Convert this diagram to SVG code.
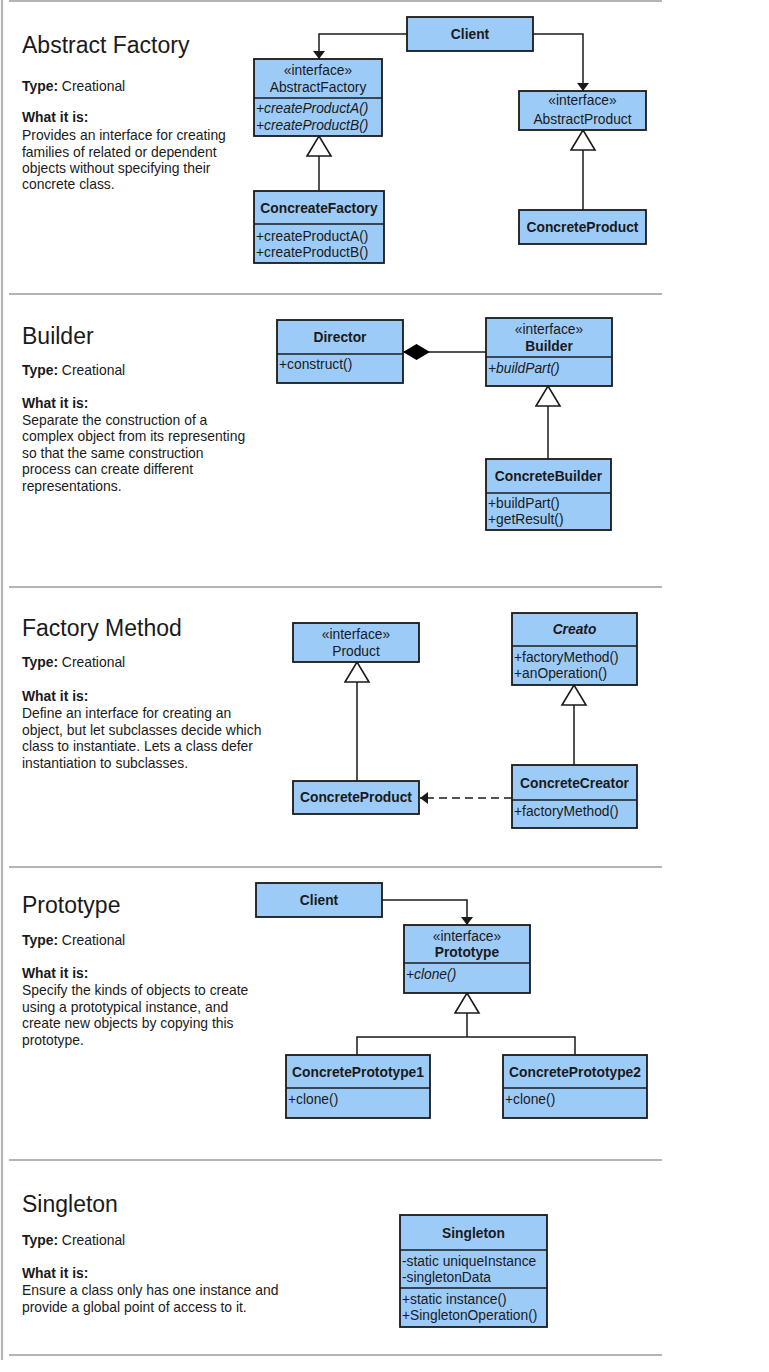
<svg xmlns="http://www.w3.org/2000/svg" width="769" height="1372" viewBox="0 0 769 1372">
<style>
text{font-family:"Liberation Sans",Arial,sans-serif;fill:#1a1a1a}
.title{font-size:23px}
.lbl{font-size:13.8px}
.d{font-size:13.9px}
.b{font-weight:bold}
.i{font-style:italic}
.c{text-anchor:middle}
.box{fill:#9dcbf8;stroke:#1a1a1a;stroke-width:1.8}
.div{stroke:#1a1a1a;stroke-width:1.6}
.sep{stroke:#b4b4b4;stroke-width:2.2}
.ln{fill:none;stroke:#1a1a1a;stroke-width:1.5}
.dash{stroke-dasharray:8 5}
</style>
<defs>
<marker id="arr" markerUnits="userSpaceOnUse" markerWidth="10" markerHeight="14" refX="8" refY="6" orient="auto"><path d="M0,0 L8,6 L0,12 z" fill="#1a1a1a"/></marker>
<marker id="tri" markerUnits="userSpaceOnUse" markerWidth="24" markerHeight="30" refX="21" refY="13" orient="auto"><path d="M1,1 L21,13 L1,25 z" fill="#fff" stroke="#1a1a1a" stroke-width="1.6"/></marker>
<marker id="dia" markerUnits="userSpaceOnUse" markerWidth="30" markerHeight="18" refX="27" refY="8" orient="auto"><path d="M0,8 L13.5,0 L27,8 L13.5,16 z" fill="#000"/></marker>
</defs>

<g id="frame">
<line class="sep" x1="2" y1="0" x2="2" y2="1360"/>
<line class="sep" x1="9" y1="1" x2="662" y2="1"/>
<line class="sep" x1="9" y1="294" x2="662" y2="294"/>
<line class="sep" x1="9" y1="587" x2="662" y2="587"/>
<line class="sep" x1="9" y1="867" x2="662" y2="867"/>
<line class="sep" x1="9" y1="1160" x2="662" y2="1160"/>
<line class="sep" x1="9" y1="1355" x2="662" y2="1355"/>
</g>

<g id="desc-abstract-factory">
<text class="title" x="22" y="53">Abstract Factory</text>
<text class="d" x="22" y="91"><tspan class="b">Type:</tspan> Creational</text>
<text class="d b" x="22" y="122">What it is:</text>
<text class="d" x="22" y="140">Provides an interface for creating</text>
<text class="d" x="22" y="157">families of related or dependent</text>
<text class="d" x="22" y="173">objects without specifying their</text>
<text class="d" x="22" y="189">concrete class.</text>
</g>
<g id="desc-builder">
<text class="title" x="22" y="344">Builder</text>
<text class="d" x="22" y="375"><tspan class="b">Type:</tspan> Creational</text>
<text class="d b" x="22" y="408">What it is:</text>
<text class="d" x="22" y="425">Separate the construction of a</text>
<text class="d" x="22" y="441">complex object from its representing</text>
<text class="d" x="22" y="458">so that the same construction</text>
<text class="d" x="22" y="474">process can create different</text>
<text class="d" x="22" y="491">representations.</text>
</g>
<g id="desc-factory-method">
<text class="title" x="22" y="636">Factory Method</text>
<text class="d" x="22" y="667"><tspan class="b">Type:</tspan> Creational</text>
<text class="d b" x="22" y="701">What it is:</text>
<text class="d" x="22" y="718">Define an interface for creating an</text>
<text class="d" x="22" y="735">object, but let subclasses decide which</text>
<text class="d" x="22" y="751">class to instantiate. Lets a class defer</text>
<text class="d" x="22" y="768">instantiation to subclasses.</text>
</g>
<g id="desc-prototype">
<text class="title" x="22" y="913">Prototype</text>
<text class="d" x="22" y="945"><tspan class="b">Type:</tspan> Creational</text>
<text class="d b" x="22" y="978">What it is:</text>
<text class="d" x="22" y="995">Specify the kinds of objects to create</text>
<text class="d" x="22" y="1012">using a prototypical instance, and</text>
<text class="d" x="22" y="1028">create new objects by copying this</text>
<text class="d" x="22" y="1045">prototype.</text>
</g>
<g id="desc-singleton">
<text class="title" x="22" y="1212">Singleton</text>
<text class="d" x="22" y="1245"><tspan class="b">Type:</tspan> Creational</text>
<text class="d b" x="22" y="1278">What it is:</text>
<text class="d" x="22" y="1295">Ensure a class only has one instance and</text>
<text class="d" x="22" y="1312">provide a global point of access to it.</text>
</g>

<g id="connectors">
<polyline class="ln" points="407,34 319,34 319,59" marker-end="url(#arr)"/>
<polyline class="ln" points="533,34 583,34 583,91" marker-end="url(#arr)"/>
<line class="ln" x1="319" y1="191" x2="319" y2="136" marker-end="url(#tri)"/>
<line class="ln" x1="583" y1="210" x2="583" y2="130" marker-end="url(#tri)"/>
<line class="ln" x1="486" y1="352" x2="403" y2="352" marker-end="url(#dia)"/>
<line class="ln" x1="548" y1="459" x2="548" y2="386" marker-end="url(#tri)"/>
<line class="ln" x1="357" y1="781" x2="357" y2="662" marker-end="url(#tri)"/>
<line class="ln" x1="574" y1="765" x2="574" y2="685" marker-end="url(#tri)"/>
<line class="ln dash" x1="512" y1="798" x2="420" y2="798" marker-end="url(#arr)"/>
<polyline class="ln" points="382,900 467,900 467,925" marker-end="url(#arr)"/>
<line class="ln" x1="467" y1="1037" x2="467" y2="993" marker-end="url(#tri)"/>
<polyline class="ln" points="357,1055 357,1037 575,1037 575,1055"/>
</g>

<g id="af-client">
<rect class="box" x="407" y="17" width="126" height="34"/>
<text class="lbl b c" x="470" y="39">Client</text>
</g>
<g id="af-abstract-factory">
<rect class="box" x="254" y="59" width="128" height="77"/>
<line class="div" x1="254" y1="98" x2="382" y2="98"/>
<text class="lbl c" x="318" y="75">«interface»</text>
<text class="lbl c" x="318" y="92">AbstractFactory</text>
<text class="lbl i" x="256" y="113">+createProductA()</text>
<text class="lbl i" x="256" y="130">+createProductB()</text>
</g>
<g id="af-abstract-product">
<rect class="box" x="519" y="91" width="127" height="39"/>
<text class="lbl c" x="582.5" y="105">«interface»</text>
<text class="lbl c" x="582.5" y="124">AbstractProduct</text>
</g>
<g id="af-concreate-factory">
<rect class="box" x="254" y="191" width="130" height="72"/>
<line class="div" x1="254" y1="224" x2="384" y2="224"/>
<text class="lbl b c" x="319" y="213">ConcreateFactory</text>
<text class="lbl" x="256" y="241">+createProductA()</text>
<text class="lbl" x="256" y="257">+createProductB()</text>
</g>
<g id="af-concrete-product">
<rect class="box" x="519" y="210" width="127" height="34"/>
<text class="lbl b c" x="582.5" y="232">ConcreteProduct</text>
</g>

<g id="b-director">
<rect class="box" x="277" y="320" width="126" height="63"/>
<line class="div" x1="277" y1="354" x2="403" y2="354"/>
<text class="lbl b c" x="340" y="342">Director</text>
<text class="lbl" x="279" y="369">+construct()</text>
</g>
<g id="b-builder">
<rect class="box" x="486" y="318" width="126" height="68"/>
<line class="div" x1="486" y1="357" x2="612" y2="357"/>
<text class="lbl c" x="549" y="334">«interface»</text>
<text class="lbl b c" x="549" y="351">Builder</text>
<text class="lbl i" x="488" y="373">+buildPart()</text>
</g>
<g id="b-concrete-builder">
<rect class="box" x="486" y="459" width="125" height="71"/>
<line class="div" x1="486" y1="493" x2="611" y2="493"/>
<text class="lbl b c" x="548.5" y="481">ConcreteBuilder</text>
<text class="lbl" x="488" y="508">+buildPart()</text>
<text class="lbl" x="488" y="524">+getResult()</text>
</g>

<g id="fm-product">
<rect class="box" x="293" y="623" width="126" height="39"/>
<text class="lbl c" x="356" y="639">«interface»</text>
<text class="lbl c" x="356" y="656">Product</text>
</g>
<g id="fm-creato">
<rect class="box" x="512" y="613" width="125" height="72"/>
<line class="div" x1="512" y1="646" x2="637" y2="646"/>
<text class="lbl b i c" x="574.5" y="634">Creato</text>
<text class="lbl" x="514" y="662">+factoryMethod()</text>
<text class="lbl" x="514" y="678">+anOperation()</text>
</g>
<g id="fm-concrete-product">
<rect class="box" x="293" y="781" width="126" height="33"/>
<text class="lbl b c" x="356" y="802">ConcreteProduct</text>
</g>
<g id="fm-concrete-creator">
<rect class="box" x="512" y="765" width="125" height="63"/>
<line class="div" x1="512" y1="800" x2="637" y2="800"/>
<text class="lbl b c" x="574.5" y="788">ConcreteCreator</text>
<text class="lbl" x="514" y="816">+factoryMethod()</text>
</g>

<g id="p-client">
<rect class="box" x="256" y="883" width="126" height="34"/>
<text class="lbl b c" x="319" y="905">Client</text>
</g>
<g id="p-prototype">
<rect class="box" x="404" y="925" width="126" height="68"/>
<line class="div" x1="404" y1="963" x2="530" y2="963"/>
<text class="lbl c" x="467" y="941">«interface»</text>
<text class="lbl b c" x="467" y="957">Prototype</text>
<text class="lbl i" x="406" y="979">+clone()</text>
</g>
<g id="p-concrete-prototype1">
<rect class="box" x="286" y="1055" width="144" height="63"/>
<line class="div" x1="286" y1="1088" x2="430" y2="1088"/>
<text class="lbl b c" x="358" y="1077">ConcretePrototype1</text>
<text class="lbl" x="288" y="1104">+clone()</text>
</g>
<g id="p-concrete-prototype2">
<rect class="box" x="503" y="1055" width="144" height="63"/>
<line class="div" x1="503" y1="1088" x2="647" y2="1088"/>
<text class="lbl b c" x="575" y="1077">ConcretePrototype2</text>
<text class="lbl" x="505" y="1104">+clone()</text>
</g>

<g id="s-singleton">
<rect class="box" x="400" y="1215" width="147" height="112"/>
<line class="div" x1="400" y1="1250" x2="547" y2="1250"/>
<line class="div" x1="400" y1="1288" x2="547" y2="1288"/>
<text class="lbl b c" x="473.5" y="1238">Singleton</text>
<text class="lbl" x="402" y="1266">-static uniqueInstance</text>
<text class="lbl" x="402" y="1282">-singletonData</text>
<text class="lbl" x="402" y="1304">+static instance()</text>
<text class="lbl" x="402" y="1320">+SingletonOperation()</text>
</g>
</svg>
